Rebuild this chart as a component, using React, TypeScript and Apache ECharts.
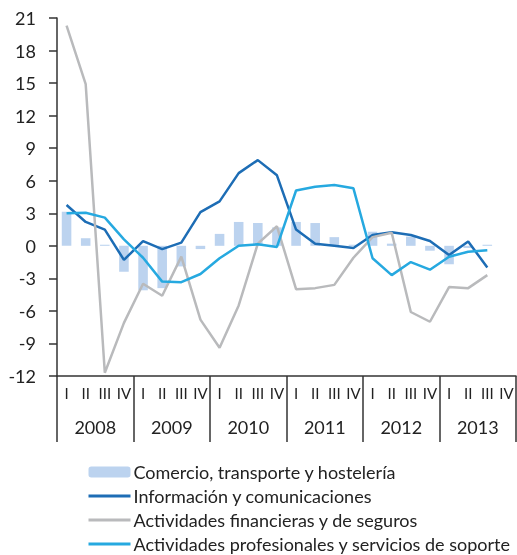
import React, { useEffect, useRef } from "react";
import * as echarts from "echarts";

const quarters = ["I", "II", "III", "IV", "I", "II", "III", "IV", "I", "II", "III", "IV", "I", "II", "III", "IV", "I", "II", "III", "IV", "I", "II", "III", "IV"];
const years = ["2008", "2009", "2010", "2011", "2012", "2013"];

const comercio = [3.15, 0.7, 0.1, -2.4, -4.1, -3.9, -1.9, -0.3, 1.1, 2.2, 2.1, 1.7, 2.2, 2.1, 0.8, 0.1, 1.3, 0.2, 0.85, -0.45, -1.7, -0.2, 0.1, null];
const informacion = [3.76, 2.2, 1.5, -1.3, 0.44, -0.3, 0.3, 3.1, 4.1, 6.7, 7.9, 6.5, 1.5, 0.2, 0.0, -0.2, 1.0, 1.25, 1.0, 0.44, -0.85, 0.4, -2.0, null];
const financieras = [20.3, 14.9, -11.7, -7.1, -3.5, -4.6, -1.0, -6.8, -9.4, -5.5, 0.2, 1.8, -4.0, -3.9, -3.6, -1.1, 0.8, 1.2, -6.1, -7.0, -3.8, -3.9, -2.7, null];
const profesionales = [3.0, 3.05, 2.6, 0.6, -1.1, -3.3, -3.35, -2.6, -1.15, 0.0, 0.14, -0.1, 5.1, 5.45, 5.6, 5.3, -1.15, -2.7, -1.5, -2.2, -1.0, -0.55, -0.4, null];

const FONT = "Lato";
const TEXT = "#222222";

export default function App() {
  const ref = useRef<HTMLDivElement>(null);
  useEffect(() => {
    if (!ref.current) return;
    const chart = echarts.init(ref.current, null, { renderer: "svg" });
    const lineItem = (name: string) => ({ name, itemStyle: { opacity: 0 }, lineStyle: { width: 3 } });
    chart.setOption({
      animation: false,
      textStyle: { fontFamily: FONT, color: TEXT },
      grid: { left: 57, right: 1, top: 18, bottom: 179 },
      xAxis: [
        {
          type: "category",
          data: quarters,
          position: "bottom",
          axisLine: { show: true, onZero: false, lineStyle: { color: "#333", width: 1.5 } },
          axisTick: { show: false },
          axisLabel: { interval: 0, fontSize: 15, color: TEXT, margin: 9, fontFamily: FONT },
        },
        {
          type: "category",
          data: years,
          position: "bottom",
          axisLine: { show: false, onZero: false },
          axisTick: { show: true, length: 66, lineStyle: { color: "#333", width: 1.5 } },
          axisLabel: { interval: 0, fontSize: 18, color: TEXT, margin: 42, fontFamily: FONT },
        },
      ],
      yAxis: {
        type: "value",
        min: -12,
        max: 21,
        interval: 3,
        axisLine: { show: true, lineStyle: { color: "#333", width: 1.5 } },
        axisTick: { show: true, length: 8, lineStyle: { color: "#333", width: 1.5 } },
        splitLine: { show: false },
        axisLabel: { fontSize: 18, color: TEXT, margin: 21, fontFamily: FONT },
      },
      legend: {
        orient: "vertical",
        left: 87,
        top: 463,
        height: 100,
        padding: 0,
        itemWidth: 42,
        itemHeight: 11,
        itemGap: 6,
        textStyle: { fontSize: 18, lineHeight: 17.5, color: TEXT, fontFamily: FONT, padding: [0, 0, 0, -2] },
        data: [
          { name: "Comercio, transporte y hostelería" },
          lineItem("Información y comunicaciones"),
          lineItem("Actividades financieras y de seguros"),
          lineItem("Actividades profesionales y servicios de soporte"),
        ],
      },
      series: [
        {
          name: "Comercio, transporte y hostelería",
          type: "bar",
          data: comercio,
          barWidth: "50%",
          itemStyle: { color: "#bcd3ef" },
        },
        {
          name: "Información y comunicaciones",
          type: "line",
          data: informacion,
          symbol: "none",
          lineStyle: { color: "#1d6db5", width: 2.5 },
          itemStyle: { color: "#1d6db5" },
        },
        {
          name: "Actividades financieras y de seguros",
          type: "line",
          data: financieras,
          symbol: "none",
          lineStyle: { color: "#b9babc", width: 2.5 },
          itemStyle: { color: "#b9babc" },
        },
        {
          name: "Actividades profesionales y servicios de soporte",
          type: "line",
          data: profesionales,
          symbol: "none",
          lineStyle: { color: "#26a9e0", width: 2.5 },
          itemStyle: { color: "#26a9e0" },
        },
      ],
    });
    return () => chart.dispose();
  }, []);
  return (
    <div
      ref={ref}
      style={{ position: "fixed", left: 0, top: 0, width: 517, height: 555 }}
    />
  );
}
